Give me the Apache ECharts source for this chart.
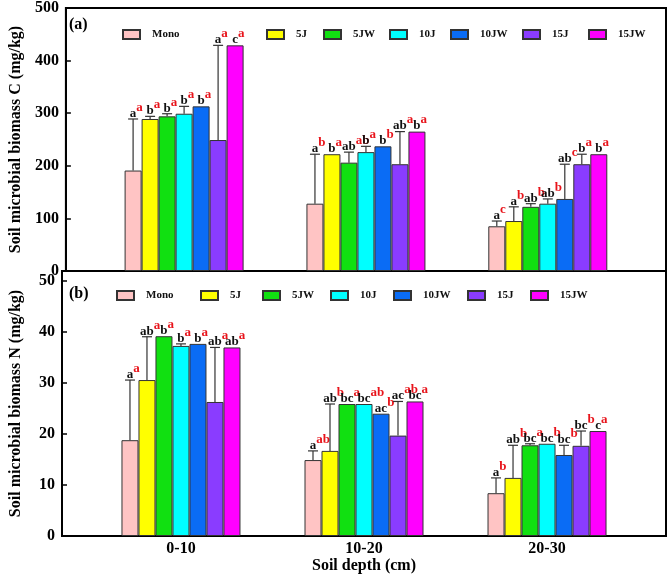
<!DOCTYPE html>
<html>
<head>
<meta charset="utf-8">
<script src="https://cdn.jsdelivr.net/npm/echarts@6/dist/echarts.min.js"></script>
<style>
html,body{margin:0;padding:0;background:#fff}
#chart{width:671px;height:575px}
</style>
</head>
<body>
<div id="chart"></div>
<script>
const depths = ['0-10', '10-20', '20-30']
const treatments = ['Mono', '5J', '5JW', '10J', '10JW', '15J', '15JW']

// biomass C (mg/kg): one row per depth, one column per treatment
const carbonMean = [
  [191, 289, 294, 299, 313, 249, 429],
  [128, 222, 206, 226, 237, 203, 265],
  [85, 95, 122, 128, 137, 203, 222]
]
const carbonSd = [
  [98, 5, 5, 14, 0, 180, 0],
  [94, 0, 20, 11, 0, 62, 0],
  [10, 27, 6, 9, 66, 19, 0]
]
const carbonSig = [
  ['a', 'b', 'b', 'b', 'b', 'a', 'c'],
  ['a', 'b', 'ab', 'b', 'b', 'ab', 'b'],
  ['a', 'a', 'ab', 'ab', 'ab', 'b', 'b']
]
const carbonSigDepth = [
  ['a', 'a', 'a', 'a', 'a', 'a', 'a'],
  ['b', 'a', 'ab', 'a', 'b', 'a', 'a'],
  ['c', 'b', 'b', 'b', 'c', 'a', 'a']
]

// biomass N (mg/kg)
const nitrogenMean = [
  [18.8, 30.6, 39.2, 37.3, 37.7, 26.3, 37.0],
  [14.9, 16.7, 25.9, 25.9, 24.0, 19.7, 26.4],
  [8.4, 11.4, 17.8, 18.1, 15.9, 17.7, 20.6]
]
const nitrogenSd = [
  [11.8, 8.5, 0, 0.4, 0, 10.7, 0],
  [1.8, 9.2, 0, 0, 0, 6.7, 0],
  [3.0, 6.4, 0.3, 0, 1.9, 2.9, 0]
]
const nitrogenSig = [
  ['a', 'ab', 'b', 'b', 'b', 'ab', 'ab'],
  ['a', 'ab', 'bc', 'bc', 'ac', 'ac', 'bc'],
  ['a', 'ab', 'bc', 'bc', 'bc', 'bc', 'c']
]
const nitrogenSigDepth = [
  ['a', 'a', 'a', 'a', 'a', 'a', 'a'],
  ['ab', 'b', 'a', 'ab', 'b', 'ab', 'a'],
  ['b', 'b', 'a', 'b', 'b', 'b', 'a']
]

const colors = ['#ffc4c4', '#ffff00', '#11e011', '#00ffff', '#0a6cf5', '#8a3cff', '#ff00ff']
const BAR_W = 17
const FONT = 'Liberation Serif'

// legend box positions (x) in the two panels
const legendTopX = [122, 266, 323, 389, 450, 522, 588]
const legendBottomX = [116, 200, 262, 330, 393, 467, 530]

function makeBars(means, ai) {
  return treatments.map((t, i) => ({
    type: 'bar',
    name: t,
    xAxisIndex: ai,
    yAxisIndex: ai,
    barWidth: BAR_W,
    barGap: '0%',
    itemStyle: { color: colors[i], borderColor: '#333', borderWidth: 1 },
    emphasis: { disabled: true },
    data: depths.map((d, k) => [k + 1, means[k][i]])
  }))
}

function makeErr(means, sds, sig, sigDepth, ai) {
  const data = []
  depths.forEach((d, k) => {
    treatments.forEach((t, i) => {
      data.push([k + 1, means[k][i], means[k][i] + sds[k][i], i])
    })
  })
  return {
    type: 'custom',
    xAxisIndex: ai,
    yAxisIndex: ai,
    silent: true,
    z: 5,
    encode: { x: 0, y: 2 },
    data: data,
    renderItem: function (params, api) {
      const k = Math.floor(params.dataIndex / 7)
      const i = params.dataIndex % 7
      const x = api.value(0), mean = api.value(1), top = api.value(2)
      const p0 = api.coord([x, mean])
      const p1 = api.coord([x, top])
      const cx = p0[0] + (i - 3) * BAR_W
      const children = []
      const lineStyle = { stroke: '#333', lineWidth: 1.2 }
      if (top > mean) {
        children.push({ type: 'line', shape: { x1: cx, y1: p0[1], x2: cx, y2: p1[1] }, style: lineStyle })
        children.push({ type: 'line', shape: { x1: cx - 5, y1: p1[1], x2: cx + 5, y2: p1[1] }, style: lineStyle })
      }
      const red = sigDepth[k][i]
      children.push({
        type: 'text',
        x: cx,
        y: p1[1] + 1,
        style: {
          text: '{g|' + red + '}{k|' + sig[k][i] + '}{r|' + red + '}',
          align: 'center',
          verticalAlign: 'bottom',
          rich: {
            g: { fontFamily: FONT, fontWeight: 'bold', fontSize: 13, fill: 'rgba(0,0,0,0)', verticalAlign: 'bottom' },
            k: { fontFamily: FONT, fontWeight: 'bold', fontSize: 13, fill: '#111', verticalAlign: 'bottom' },
            r: { fontFamily: FONT, fontWeight: 'bold', fontSize: 13, fill: '#e8141b', padding: [0, 0, 6, 0], verticalAlign: 'bottom' }
          }
        }
      })
      return { type: 'group', children: children }
    }
  }
}

function makeLegends(xs, top) {
  return treatments.map((t, i) => ({
    data: [t],
    left: xs[i],
    top: top,
    padding: 0,
    itemWidth: 17,
    itemHeight: 9,
    selectedMode: false,
    icon: 'rect',
    textStyle: { fontFamily: FONT, fontWeight: 'bold', fontSize: 11, color: '#111', padding: [0, 0, 0, 7] }
  }))
}

const labelStyle = { fontFamily: FONT, fontWeight: 'bold', fontSize: 16, color: '#000' }

const chart = echarts.init(document.getElementById('chart'))
const option = {
  animation: false,
  backgroundColor: '#fff',
  title: [
    { text: '(a)', left: 69, top: 17, padding: 0, textStyle: { fontFamily: FONT, fontWeight: 'bold', fontSize: 16, color: '#000' } },
    { text: '(b)', left: 69, top: 286, padding: 0, textStyle: { fontFamily: FONT, fontWeight: 'bold', fontSize: 16, color: '#000' } }
  ],
  legend: makeLegends(legendTopX, 29).concat(makeLegends(legendBottomX, 290)),
  grid: [
    { left: 60, right: 5, top: 8, height: 263, show: true, borderColor: '#000', borderWidth: 2, backgroundColor: 'transparent' },
    { left: 60, right: 5, top: 271, height: 265, show: true, borderColor: '#000', borderWidth: 2, backgroundColor: 'transparent' }
  ],
  xAxis: [
    {
      type: 'value', gridIndex: 0, min: 0.35, max: 3.65,
      axisLine: { show: false }, axisTick: { show: false }, axisLabel: { show: false }, splitLine: { show: false }
    },
    {
      type: 'value', gridIndex: 1, min: 0.35, max: 3.65,
      name: 'Soil depth (cm)', nameLocation: 'middle', nameGap: 22,
      nameTextStyle: labelStyle,
      axisLine: { show: false }, axisTick: { show: false }, splitLine: { show: false },
      axisLabel: Object.assign({ customValues: [1, 2, 3], margin: 5, formatter: v => depths[Math.round(v) - 1] }, labelStyle)
    }
  ],
  yAxis: [
    {
      type: 'value', gridIndex: 0, min: 0, max: 500, interval: 100,
      name: 'Soil microbial biomass C (mg/kg)', nameLocation: 'middle', nameGap: 38,
      nameTextStyle: labelStyle,
      axisLine: { show: true, lineStyle: { color: '#000', width: 2 } },
      axisTick: { show: true, inside: true, length: 5, lineStyle: { color: '#000', width: 1.5 } },
      splitLine: { show: false },
      axisLabel: Object.assign({ margin: 7 }, labelStyle)
    },
    {
      type: 'value', gridIndex: 1, min: 0, max: 52, interval: 10,
      name: 'Soil microbial biomass N (mg/kg)', nameLocation: 'middle', nameGap: 38,
      nameTextStyle: labelStyle,
      axisLine: { show: true, lineStyle: { color: '#000', width: 2 } },
      axisTick: { show: true, inside: true, length: 5, lineStyle: { color: '#000', width: 1.5 } },
      splitLine: { show: false },
      axisLabel: Object.assign({ margin: 7, showMaxLabel: false, formatter: v => (v % 10 === 0 ? String(v) : '') }, labelStyle)
    }
  ],
  series: makeBars(carbonMean, 0)
    .concat(makeBars(nitrogenMean, 1))
    .concat([
      makeErr(carbonMean, carbonSd, carbonSig, carbonSigDepth, 0),
      makeErr(nitrogenMean, nitrogenSd, nitrogenSig, nitrogenSigDepth, 1)
    ])
}
chart.setOption(option)
window.addEventListener('resize', () => {
  chart.resize()
})
</script>
</body>
</html>
